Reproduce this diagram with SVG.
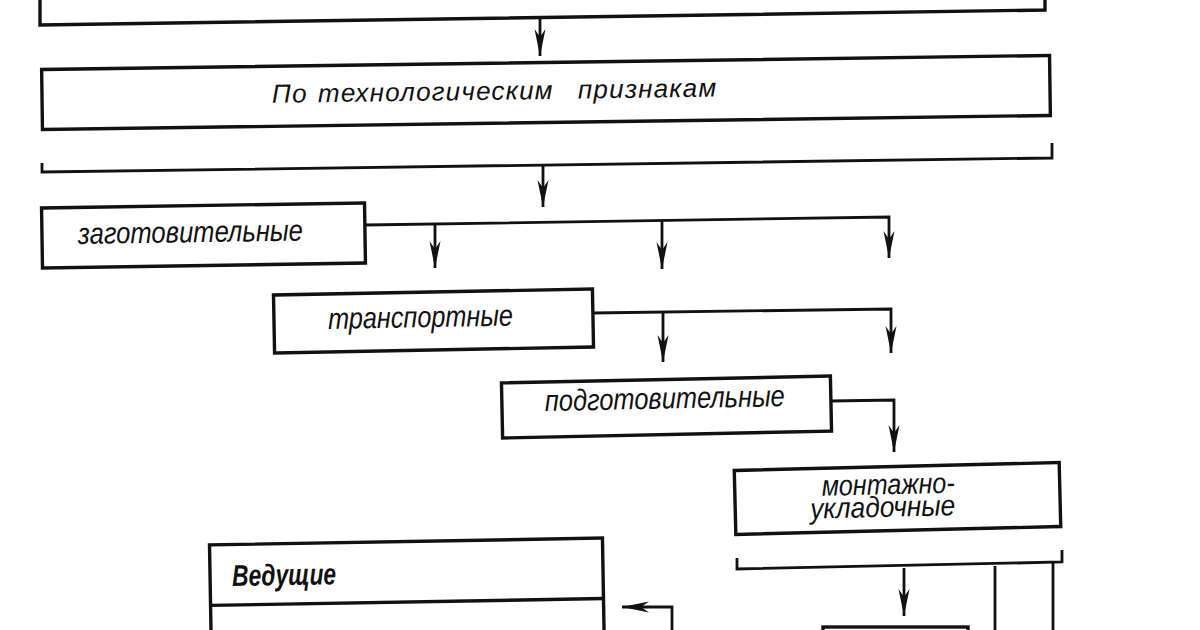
<svg xmlns="http://www.w3.org/2000/svg" width="1200" height="630" viewBox="0 0 1200 630">
<style>
.box{fill:none;stroke:#111;stroke-width:3.4}
.con{fill:none;stroke:#111;stroke-width:2.8}
.t{font-family:"Liberation Sans",Arial,sans-serif;font-style:italic;fill:#111}
</style>
<defs>
<marker id="ah" markerUnits="userSpaceOnUse" markerWidth="30" markerHeight="14" viewBox="-28 -7 30 14" refX="0" refY="0" orient="auto">
<path d="M0,0 L-27,-5.5 L-19,0 L-27,5.5 Z" fill="#111"/>
</marker>
</defs>
<rect width="1200" height="630" fill="#fff"/>

<g id="node-top">
<path class="box" d="M40,-5 V25 L1045,10 V-5"/>
</g>

<g id="node-tech" transform="rotate(-0.8 546 92.5)">
<rect class="box" x="42" y="62.5" width="1008" height="60"/>
<text class="t" y="99" font-size="26" letter-spacing="1.2"><tspan x="272">По</tspan> <tspan x="318">технологическим</tspan> <tspan x="578">признакам</tspan></text>
</g>

<g id="node-zag" transform="rotate(-0.9 203.5 235.5)">
<rect class="box" x="42" y="205.5" width="323" height="60"/>
<text class="t" x="78" y="242" font-size="30" textLength="225" lengthAdjust="spacingAndGlyphs">заготовительные</text>
</g>

<g id="node-trans" transform="rotate(-1.08 433.5 321)">
<rect class="box" x="274" y="292" width="319" height="58"/>
<text class="t" x="328" y="327" font-size="30" textLength="185" lengthAdjust="spacingAndGlyphs">транспортные</text>
</g>

<g id="node-podg" transform="rotate(-1.2 666.5 407)">
<rect class="box" x="502" y="379.5" width="329" height="55"/>
<text class="t" x="545" y="408.5" font-size="30" textLength="240" lengthAdjust="spacingAndGlyphs">подготовительные</text>
</g>

<g id="node-mont" transform="rotate(-1.4 897.5 498.5)">
<rect class="box" x="735" y="466.5" width="325" height="64"/>
<text class="t" x="822" y="494" font-size="29" textLength="133" lengthAdjust="spacingAndGlyphs">монтажно-</text>
<text class="t" x="810" y="516.5" font-size="29" textLength="145" lengthAdjust="spacingAndGlyphs">укладочные</text>
</g>

<g id="node-ved" transform="rotate(-1 406.5 571.5)">
<rect class="box" x="210" y="541.5" width="393" height="200"/>
<line class="box" x1="210" y1="602" x2="603" y2="602"/>
<text class="t" x="232" y="583" font-size="30" font-weight="bold" textLength="104" lengthAdjust="spacingAndGlyphs">Ведущие</text>
</g>

<g id="node-bottom">
<rect class="box" x="823" y="627" width="145" height="60"/>
</g>

<g id="connectors">
<path class="con" d="M540,18 V56" marker-end="url(#ah)"/>
<path class="con" d="M42,163 V172 L1052,158 V143"/>
<path class="con" d="M543,166 V207" marker-end="url(#ah)"/>
<path class="con" d="M365,225 L889,217 V258" marker-end="url(#ah)"/>
<path class="con" d="M435,224 V268" marker-end="url(#ah)"/>
<path class="con" d="M662,221 V269" marker-end="url(#ah)"/>
<path class="con" d="M593,313 L891,309 V353" marker-end="url(#ah)"/>
<path class="con" d="M663,312 V362" marker-end="url(#ah)"/>
<path class="con" d="M831,401 L894,400 V452" marker-end="url(#ah)"/>
<path class="con" d="M737,558 V569 L1062,562 V550"/>
<path class="con" d="M904,568 V616" marker-end="url(#ah)"/>
<path class="con" d="M995,566 V640"/>
<path class="con" d="M1053,563 V640"/>
<path class="con" d="M672,640 V607 H622" marker-end="url(#ah)"/>
</g>
</svg>
